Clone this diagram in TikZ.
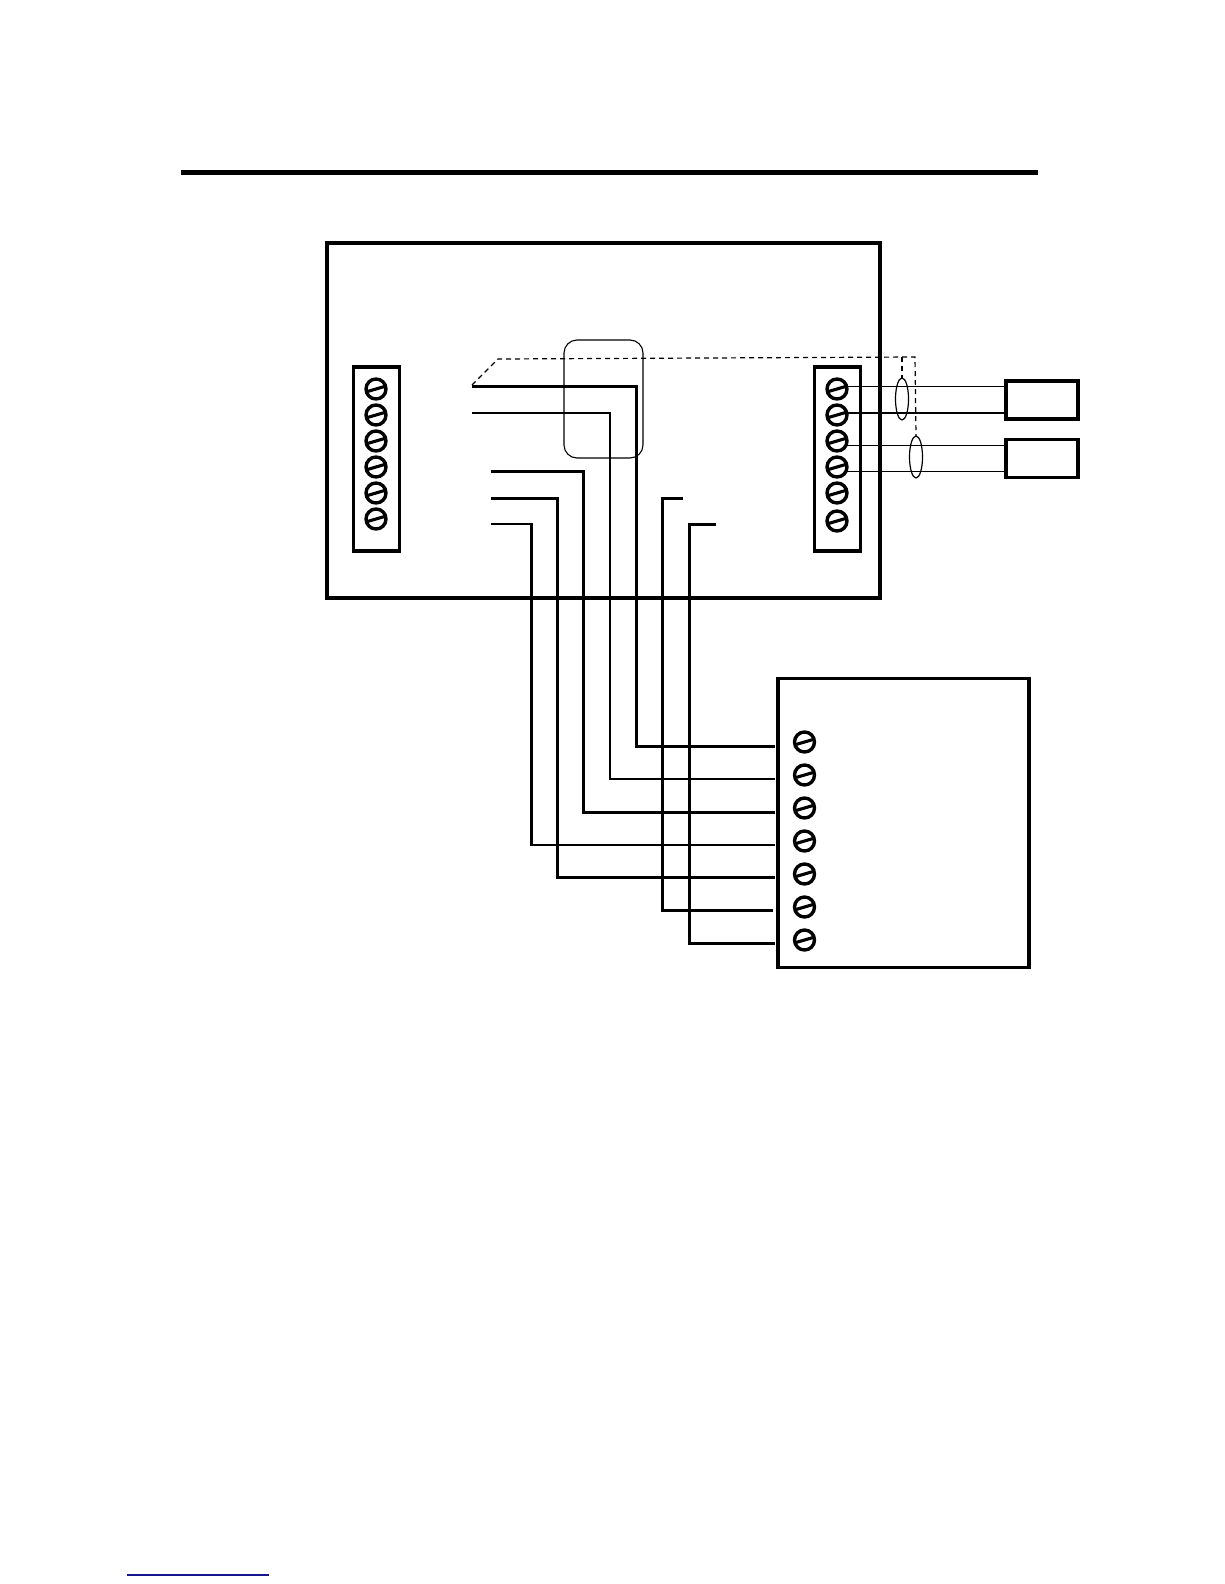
\documentclass[tikz,border=0pt]{standalone}
\usetikzlibrary{shapes.geometric}
\tikzset{
  boxheavy/.style={draw=black,rectangle,line width=4pt,inner sep=0,outer sep=0},
  boxmid/.style={draw=black,rectangle,line width=3.4pt,inner sep=0,outer sep=0},
  screw/.style={draw=black,circle,line width=3.4pt,minimum size=20pt,inner sep=0,outer sep=0,
    path picture={\draw[line width=3.1pt] ([xshift=-11pt,yshift=-3.2pt]path picture bounding box.center) -- ([xshift=11pt,yshift=3.2pt]path picture bounding box.center);}},
  wire/.style={draw=black,line width=3pt,line join=miter},
  wirethin/.style={draw=black,line width=2.3pt,line join=miter},
  sensorwire/.style={draw=black,line width=1pt},
  shield/.style={draw=black,ellipse,line width=1.2pt,minimum width=13pt,minimum height=42pt,inner sep=0,outer sep=0},
  dashwire/.style={draw=black,line width=1.2pt,dash pattern=on 5pt off 4pt},
}
\begin{document}
\begin{tikzpicture}[x=1pt,y=-1pt]
\useasboundingbox (0,0) rectangle (1224,1584);
\fill[white] (0,0) rectangle (1224,1584);
% header rule and bottom link rule
\coordinate (ruleL) at (181,172); \coordinate (ruleR) at (1038,172);
\draw[line width=5pt] (ruleL) -- (ruleR);
\coordinate (linkL) at (127,1575); \coordinate (linkR) at (269,1575);
\draw[line width=1.2pt,draw={rgb,255:red,20;green,20;blue,140}] (linkL) -- (linkR);
% boxes
\node[boxheavy,minimum width=553pt,minimum height=355pt] (main) at (603.5,420.5) {};
\node[boxmid,minimum width=46pt,minimum height=184pt] (leftstrip) at (376.5,459) {};
\node[boxmid,minimum width=46pt,minimum height=184pt] (rightstrip) at (837.5,459) {};
\node[boxmid,minimum width=72pt,minimum height=38pt] (sensorA) at (1042,400) {};
\node[boxmid,minimum width=72pt,minimum height=38pt] (sensorB) at (1042,458.5) {};
\node[boxmid,minimum width=251pt,minimum height=289pt] (lower) at (903.5,823) {};
\node[draw=black,rectangle,rounded corners=13pt,line width=1.1pt,minimum width=79pt,minimum height=118pt,inner sep=0] (module) at (603.5,399) {};
% screws
\foreach \n/\y in {1/389,2/415,3/441,4/467,5/493,6/519}
  \node[screw] (ls\n) at (376,\y) {};
\foreach \n/\y in {1/389,2/415,3/441,4/467,5/493,6/521}
  \node[screw] (rs\n) at (837,\y) {};
\foreach \n/\y in {1/742,2/775,3/808,4/841,5/874,6/907,7/940}
  \node[screw] (bs\n) at (804.5,\y) {};
% sensor wires
\coordinate (sa1) at (847,386); \coordinate (sa2) at (847,413);
\coordinate (sb1) at (847,445); \coordinate (sb2) at (847,471);
\draw[sensorwire] (sa1) -- (sensorA.west |- sa1);
\draw[line width=2pt] (sa2) -- (sensorA.west |- sa2);
\draw[sensorwire] (sb1) -- (sensorB.west |- sb1);
\draw[sensorwire] (sb2) -- (sensorB.west |- sb2);
% shields
\node[shield] (shA) at (902,399) {};
\node[shield] (shB) at (916,457) {};
% dashed drain
\coordinate (d0) at (472,385); \coordinate (d1) at (498,359);
\coordinate (d2) at (915,357); \coordinate (d3) at (902,357);
\draw[dashwire] (d0) -- (d1) -- (d2) -- (shB.north);
\draw[dashwire] (d3) -- (shA.north);
% harness
\coordinate (a0) at (472,386); \coordinate (a1) at (636.5,386); \coordinate (a2) at (775,746);
\coordinate (b0) at (472,413); \coordinate (b1) at (610,413); \coordinate (b2) at (775,779);
\coordinate (c0) at (491,471); \coordinate (c1) at (583.5,471); \coordinate (c2) at (775,812);
\coordinate (e0) at (491,498); \coordinate (e1) at (557,498); \coordinate (e2) at (775,877);
\coordinate (f0) at (491,524); \coordinate (f1) at (531.5,524); \coordinate (f2) at (775,845);
\coordinate (g0) at (683,498); \coordinate (g1) at (662.5,498); \coordinate (g2) at (773,910);
\coordinate (h0) at (716,524); \coordinate (h1) at (689,524); \coordinate (h2) at (775,943);
\draw[wire] (a0) -- (a1) -- (a1 |- a2) -- (a2);
\draw[wirethin] (b0) -- (b1) -- (b1 |- b2) -- (b2);
\draw[wire] (c0) -- (c1) -- (c1 |- c2) -- (c2);
\draw[wire] (e0) -- (e1) -- (e1 |- e2) -- (e2);
\draw[wirethin] (f0) -- (f1) -- (f1 |- f2) -- (f2);
\draw[wire] (g0) -- (g1) -- (g1 |- g2) -- (g2);
\draw[wire] (h0) -- (h1) -- (h1 |- h2) -- (h2);
\end{tikzpicture}
\end{document}
